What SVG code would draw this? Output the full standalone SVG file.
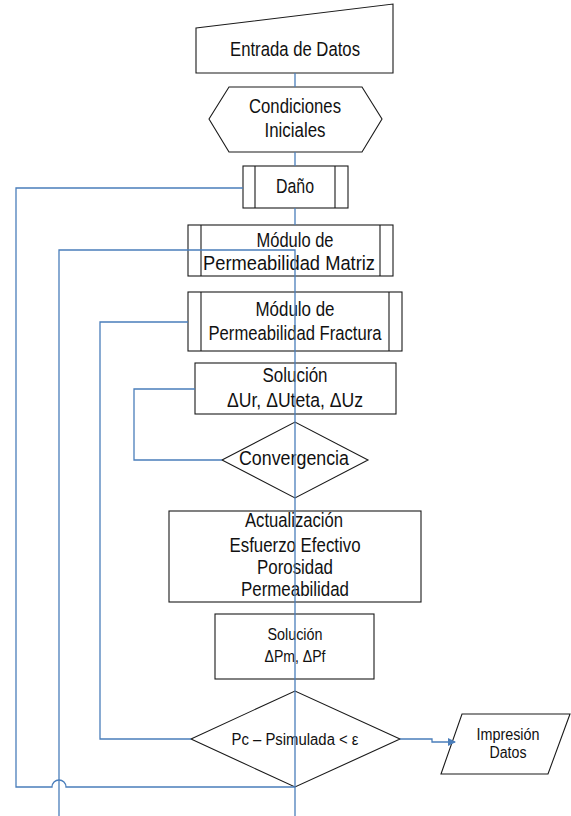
<svg xmlns="http://www.w3.org/2000/svg" width="571" height="816" viewBox="0 0 571 816">
<style>
.shape{fill:#fff;stroke:#1a1a1a;stroke-width:1.1}
.inner{fill:none;stroke:#1a1a1a;stroke-width:1.1}
.t{font-family:"Liberation Sans",Arial,sans-serif;font-size:20.5px;fill:#111;text-anchor:middle}
.s{font-size:16px}
.c{fill:none;stroke:#4A7EBB;stroke-width:1.3}
</style>
<defs>
<marker id="arr" markerWidth="8" markerHeight="8" refX="7" refY="4" orient="auto" markerUnits="userSpaceOnUse">
<path d="M0,0 L8,4 L0,8 Z" fill="#4A7EBB"/>
</marker>
</defs>
<rect width="571" height="816" fill="#fff"/>
<g id="nodes">
<g id="entrada">
<polygon class="shape" points="196,28 393,4 393,73 196,73"/>
<text class="t" x="295" y="56" textLength="130" lengthAdjust="spacingAndGlyphs">Entrada de Datos</text>
</g>
<g id="condiciones">
<polygon class="shape" points="209,119 229,87 362,87 382,119 362,152 229,152"/>
<text class="t" x="295" y="113" textLength="92" lengthAdjust="spacingAndGlyphs">Condiciones</text>
<text class="t" x="295" y="137" textLength="61" lengthAdjust="spacingAndGlyphs">Iniciales</text>
</g>
<g id="dano">
<rect class="shape" x="243" y="166" width="105" height="42"/>
<path class="inner" d="M255,166 V208 M335,166 V208"/>
<text class="t" x="295" y="193" textLength="38" lengthAdjust="spacingAndGlyphs">Daño</text>
</g>
<g id="matriz">
<rect class="shape" x="188" y="225" width="205" height="51"/>
<path class="inner" d="M201,225 V276 M380,225 V276"/>
<text class="t" x="295" y="247" textLength="77" lengthAdjust="spacingAndGlyphs">Módulo de</text>
<text class="t" x="289" y="270" textLength="172" lengthAdjust="spacingAndGlyphs">Permeabilidad Matriz</text>
</g>
<g id="fractura">
<rect class="shape" x="188" y="292" width="214" height="59"/>
<path class="inner" d="M201,292 V351 M389,292 V351"/>
<text class="t" x="295" y="316" textLength="79" lengthAdjust="spacingAndGlyphs">Módulo de</text>
<text class="t" x="295" y="340" textLength="173" lengthAdjust="spacingAndGlyphs">Permeabilidad Fractura</text>
</g>
<g id="solucion1">
<rect class="shape" x="195" y="363" width="201" height="51"/>
<text class="t" x="295" y="382" textLength="65" lengthAdjust="spacingAndGlyphs">Solución</text>
<text class="t" x="295" y="407" textLength="136" lengthAdjust="spacingAndGlyphs">ΔUr, ΔUteta, ΔUz</text>
</g>
<g id="convergencia">
<polygon class="shape" points="222,460 295,422 368,460 295,498"/>
<text class="t" x="294" y="465" textLength="110" lengthAdjust="spacingAndGlyphs">Convergencia</text>
</g>
<g id="actualizacion">
<rect class="shape" x="169" y="511" width="252" height="91"/>
<text class="t" x="294" y="527" textLength="98" lengthAdjust="spacingAndGlyphs">Actualización</text>
<text class="t" x="295" y="552" textLength="131" lengthAdjust="spacingAndGlyphs">Esfuerzo Efectivo</text>
<text class="t" x="295" y="574" textLength="76" lengthAdjust="spacingAndGlyphs">Porosidad</text>
<text class="t" x="295" y="596" textLength="108" lengthAdjust="spacingAndGlyphs">Permeabilidad</text>
</g>
<g id="solucion2">
<rect class="shape" x="215" y="614" width="159" height="65"/>
<text class="t s" x="295" y="640" textLength="55" lengthAdjust="spacingAndGlyphs">Solución</text>
<text class="t s" x="295" y="662" textLength="61" lengthAdjust="spacingAndGlyphs">ΔPm, ΔPf</text>
</g>
<g id="decision">
<polygon class="shape" points="191,739 295,691 400,739 295,787"/>
<text class="t s" x="295" y="745" textLength="127" lengthAdjust="spacingAndGlyphs">Pc – Psimulada &lt; ε</text>
</g>
<g id="impresion">
<polygon class="shape" points="462,714 570,714 548,774 441,774"/>
<text class="t s" x="508" y="740" textLength="63" lengthAdjust="spacingAndGlyphs">Impresión</text>
<text class="t s" x="508" y="758" textLength="37" lengthAdjust="spacingAndGlyphs">Datos</text>
</g>
</g>
<g id="connectors">
<path class="c" d="M295,73 V87 M295,152 V166 M295,208 V225"/>
<path class="c" d="M59,816 V250 H295 V816"/>
<path class="c" d="M243,188 H16 V787 H52 A7,7 0 0 1 66,787 H295"/>
<path class="c" d="M188,322 H100 V739 H191"/>
<path class="c" d="M195,389 H134 V460 H222"/>
<path class="c" d="M400,739 H432 V742 H455" marker-end="url(#arr)"/>
</g>
</svg>
